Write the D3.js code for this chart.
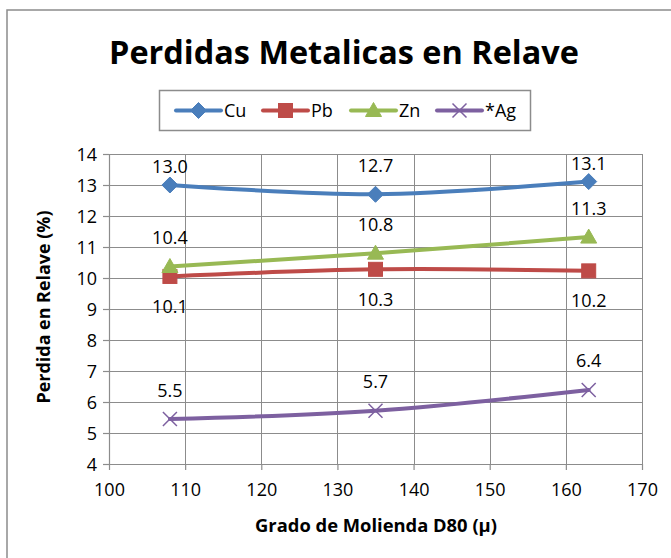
<!DOCTYPE html>
<html>
<head>
<meta charset="utf-8">
<script src="https://cdn.jsdelivr.net/npm/d3@7"></script>
<style>
  html, body { margin: 0; padding: 0; background: #fff; }
  svg { display: block; font-family: "Open Sans", "Noto Sans", sans-serif; }
</style>
</head>
<body>
<svg id="chart" width="671" height="558"></svg>
<script>
// ---- data ----
const xValues = [108, 135, 163];
const seriesNames = ["Cu", "Pb", "Zn", "*Ag"];
const cuValues = [13.0, 12.7, 13.11];
const pbValues = [10.05, 10.28, 10.23];
const znValues = [10.37, 10.8, 11.32];
const agValues = [5.45, 5.72, 6.39];
const xTicks = [100, 110, 120, 130, 140, 150, 160, 170];
const yTicks = [4, 5, 6, 7, 8, 9, 10, 11, 12, 13, 14];
const titleText = "Perdidas Metalicas en Relave";
const xTitle = "Grado de Molienda D80 (µ)";
const yTitle = "Perdida en Relave (%)";

const series = [
  { name: seriesNames[0], values: cuValues, color: "#4a7ebb", marker: "diamond", label: "above" },
  { name: seriesNames[1], values: pbValues, color: "#be4b48", marker: "square", label: "below" },
  { name: seriesNames[2], values: znValues, color: "#98b954", marker: "triangle", label: "above" },
  { name: seriesNames[3], values: agValues, color: "#7d60a0", marker: "x", label: "above" }
];

const svg = d3.select("#chart");
const plot = { left: 109, right: 642, top: 154, bottom: 464 };
const grid = "#8c8c8c";

// outer chart border (extends past the visible picture on right/bottom)
svg.append("rect").attr("x", 7).attr("y", 10).attr("width", 700).attr("height", 600)
  .attr("fill", "#fff").attr("stroke", "#8c8c8c").attr("stroke-width", 1.5);

const x = d3.scaleLinear().domain([100, 170]).range([plot.left, plot.right]);
const y = d3.scaleLinear().domain([4, 14]).range([plot.bottom, plot.top]);

// gridlines
const g = svg.append("g");
g.selectAll("line.h").data(yTicks).join("line")
  .attr("x1", plot.left).attr("x2", plot.right)
  .attr("y1", d => Math.round(y(d)) + 0.5).attr("y2", d => Math.round(y(d)) + 0.5)
  .attr("stroke", grid).attr("stroke-width", 1);
g.selectAll("line.v").data(xTicks).join("line")
  .attr("y1", plot.top).attr("y2", plot.bottom)
  .attr("x1", d => Math.round(x(d)) + 0.5).attr("x2", d => Math.round(x(d)) + 0.5)
  .attr("stroke", grid).attr("stroke-width", 1);

// axes
const xAxis = d3.axisBottom(x).tickValues(xTicks).tickSize(6).tickSizeOuter(0).tickPadding(10);
const yAxis = d3.axisLeft(y).tickValues(yTicks).tickSize(6).tickSizeOuter(0).tickPadding(6);
const gx = svg.append("g").attr("transform", `translate(0,${plot.bottom})`).call(xAxis);
const gy = svg.append("g").attr("transform", `translate(${plot.left},0)`).call(yAxis);
[gx, gy].forEach(a => {
  a.selectAll("path, line").attr("stroke", grid).attr("stroke-width", 1.2);
  a.selectAll("text").attr("fill", "#000").style("font-size", "18px")
    .style("font-family", "'Open Sans', sans-serif");
});
gx.selectAll("text").attr("dy", "0.9em");
gy.selectAll("text").attr("dy", "0.36em");

// lines
const line = d3.line().x((d, i) => x(xValues[i])).y(d => y(d)).curve(d3.curveCatmullRom.alpha(0.5));
series.forEach(s => {
  svg.append("path").datum(s.values).attr("d", line)
    .attr("fill", "none").attr("stroke", s.color).attr("stroke-width", 4)
    .attr("stroke-linejoin", "round").attr("stroke-linecap", "round");
});

function drawMarker(sel, type, color, cx, cy) {
  if (type === "diamond") {
    const r = 8;
    sel.append("path").attr("d", `M${cx},${cy - r}L${cx + r},${cy}L${cx},${cy + r}L${cx - r},${cy}Z`)
      .attr("fill", color).attr("stroke", color).attr("stroke-width", 1);
  } else if (type === "square") {
    const r = 7;
    sel.append("rect").attr("x", cx - r).attr("y", cy - r).attr("width", 2 * r).attr("height", 2 * r)
      .attr("fill", color).attr("stroke", color).attr("stroke-width", 1);
  } else if (type === "triangle") {
    const r = 8;
    sel.append("path").attr("d", `M${cx},${cy - r}L${cx + r},${cy + r * 0.75}L${cx - r},${cy + r * 0.75}Z`)
      .attr("fill", color).attr("stroke", color).attr("stroke-width", 1);
  } else if (type === "x") {
    const r = 7;
    sel.append("path").attr("d", `M${cx - r},${cy - r}L${cx + r},${cy + r}M${cx - r},${cy + r}L${cx + r},${cy - r}`)
      .attr("fill", "none").attr("stroke", color).attr("stroke-width", 1.5);
  }
}

// markers and labels
const fmt = d3.format(".1f");
series.forEach(s => {
  const mg = svg.append("g");
  s.values.forEach((v, i) => {
    const cx = x(xValues[i]), cy = y(v);
    drawMarker(mg, s.marker, s.color, cx, cy);
    let ly;
    if (s.label === "below") ly = cy + 30;
    else {
      ly = cy - 29;
      if (ly - 10 < plot.top) ly = cy - 18.5;
    }
    svg.append("text").attr("x", cx).attr("y", ly).attr("dy", "0.36em")
      .attr("text-anchor", "middle").style("font-size", "18px").attr("fill", "#000")
      .text(fmt(v));
  });
});

function fitText(sel, base, width) {
  const w = sel.node().getComputedTextLength();
  sel.style("font-size", (base * width / w).toFixed(2) + "px");
}

// title (fit to width of original)
const title = svg.append("text").attr("x", 344).attr("y", 64).attr("text-anchor", "middle")
  .style("font-weight", "bold").style("font-size", "32px").attr("fill", "#000").text(titleText);
fitText(title, 32, 470);

// legend
const lg = svg.append("g");
lg.append("rect").attr("x", 159.5).attr("y", 90.5).attr("width", 371).attr("height", 40)
  .attr("fill", "#fff").attr("stroke", "#8c8c8c").attr("stroke-width", 1.5);
const legendX = [176, 263, 351, 437];
series.forEach((s, i) => {
  const lx = legendX[i], ly = 110.5;
  lg.append("line").attr("x1", lx).attr("x2", lx + 45).attr("y1", ly).attr("y2", ly)
    .attr("stroke", s.color).attr("stroke-width", 4).attr("stroke-linecap", "round");
  drawMarker(lg, s.marker, s.color, lx + 22.5, ly);
  lg.append("text").attr("x", lx + 48).attr("y", ly).attr("dy", "0.36em")
    .style("font-size", "18px").attr("fill", "#000").text(s.name);
});

// axis titles
const xt = svg.append("text").attr("x", 376).attr("y", 532).attr("text-anchor", "middle")
  .style("font-weight", "bold").style("font-size", "16px").attr("fill", "#000").text(xTitle);
fitText(xt, 16, 242);
const yt = svg.append("text").attr("transform", "translate(50,307) rotate(-90)").attr("text-anchor", "middle")
  .style("font-weight", "bold").style("font-size", "16px").attr("fill", "#000").text(yTitle);
fitText(yt, 16, 193);
</script>
</body>
</html>
